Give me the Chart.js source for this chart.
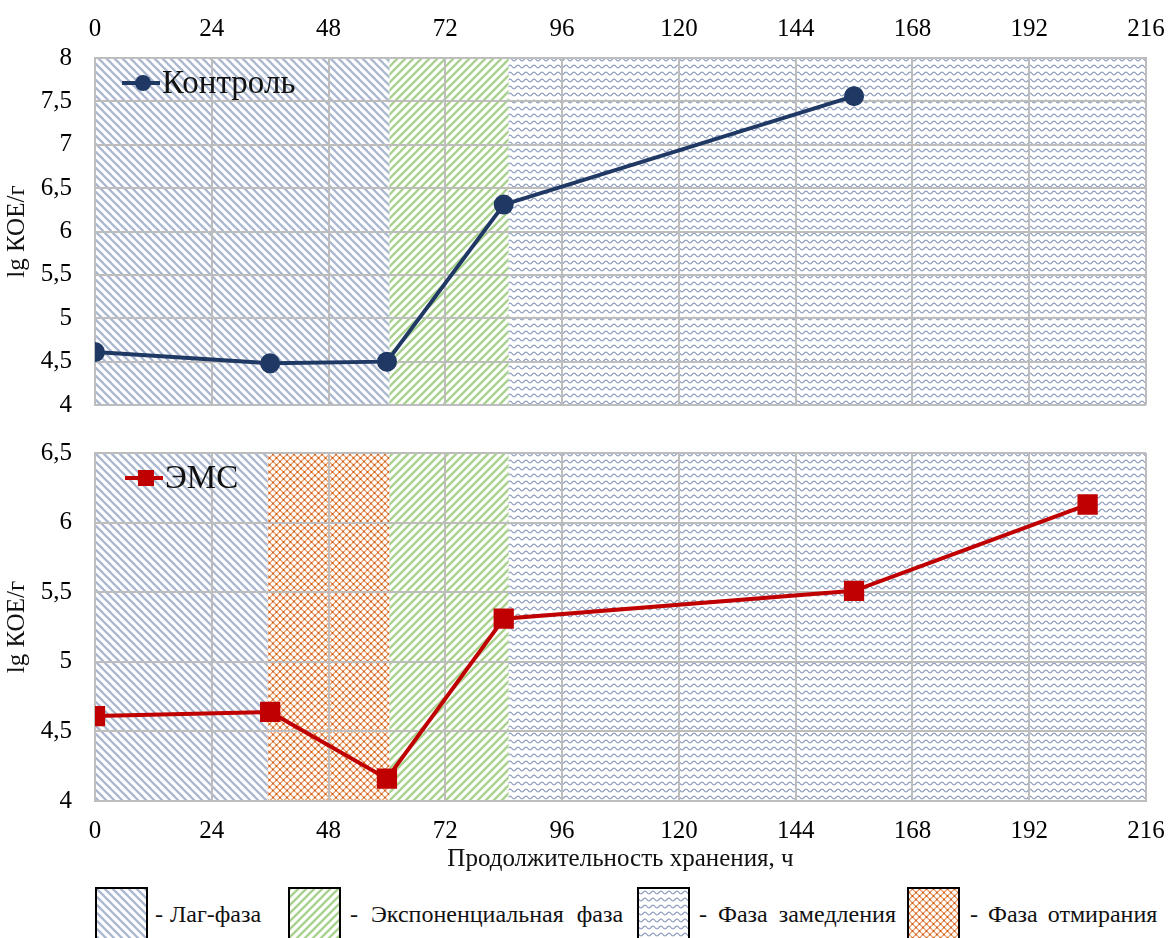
<!DOCTYPE html>
<html lang="ru">
<head>
<meta charset="utf-8">
<title>Рост микрофлоры при хранении</title>
<script src="https://cdn.jsdelivr.net/npm/chart.js@4.4.1/dist/chart.umd.min.js"></script>
<style>
  html, body { margin: 0; padding: 0; background: #fff; }
  body { width: 1168px; height: 938px; position: relative; overflow: hidden; font-family: "Liberation Serif", "Times New Roman", serif; }
  #topWrap { position: absolute; left: 0; top: 0; width: 1168px; height: 420px; }
  #botWrap { position: absolute; left: 0; top: 430px; width: 1168px; height: 446px; }
  .lg-box { position: absolute; top: 887px; width: 53px; height: 60px; border: 2px solid #000; box-sizing: border-box; overflow: hidden; }
  .lg-box canvas { display: block; }
  .lg-text { position: absolute; top: 899px; font-size: 24px; line-height: 30px; color: #111; white-space: nowrap; }
</style>
</head>
<body>
<div id="topWrap"><canvas id="topChart" width="1168" height="420"></canvas></div>
<div id="botWrap"><canvas id="botChart" width="1168" height="446"></canvas></div>
<div id="legend"></div>

<script>
// ---- data ----
const xTicks = [0, 24, 48, 72, 96, 120, 144, 168, 192, 216];
const controlHours = [0, 36, 60, 84, 156];
const controlLog = [4.61, 4.48, 4.50, 6.31, 7.56];
const emsHours = [0, 36, 60, 84, 156, 204];
const emsLog = [4.61, 4.64, 4.16, 5.31, 5.51, 6.13];

// growth phases: boundaries (hours) and phase index for each interval
const phaseNames = ['Лаг-фаза', 'Экспоненциальная фаза', 'Фаза замедления', 'Фаза отмирания'];
const controlPhaseBounds = [0, 60.5, 85, 216];
const controlPhaseKinds = [0, 1, 2];
const emsPhaseBounds = [0, 35.5, 60.5, 85, 216];
const emsPhaseKinds = [0, 3, 1, 2];

const controlLabel = 'Контроль';
const emsLabel = 'ЭМС';
const yTitle = 'lg КОЕ/г';
const xTitle = 'Продолжительность хранения, ч';

// ---- fill patterns ----
function tile(w, h, draw) {
  const c = document.createElement('canvas');
  c.width = w; c.height = h;
  const g = c.getContext('2d');
  draw(g, w, h);
  return c;
}
const patternTiles = [
  // lag: "\" stripes
  tile(8, 8, (g) => {
    g.strokeStyle = '#abb8d0'; g.lineWidth = 2.3; g.lineCap = 'square';
    for (const o of [-8, 0, 8]) { g.beginPath(); g.moveTo(o, 0); g.lineTo(o + 8, 8); g.stroke(); }
  }),
  // exponential: "/" stripes
  tile(8, 8, (g) => {
    g.strokeStyle = '#a9d18e'; g.lineWidth = 2.3; g.lineCap = 'square';
    for (const o of [-8, 0, 8]) { g.beginPath(); g.moveTo(o, 8); g.lineTo(o + 8, 0); g.stroke(); }
  }),
  // slowdown: waves
  tile(8, 7, (g) => {
    g.strokeStyle = '#8c9dbd'; g.lineWidth = 1.2;
    g.beginPath();
    for (let x = 0; x <= 8; x += 0.5) {
      const y = 3.5 + 1.4 * Math.sin(2 * Math.PI * x / 8);
      if (x === 0) g.moveTo(x, y); else g.lineTo(x, y);
    }
    g.stroke();
  }),
  // die-off: lattice
  tile(7, 7, (g) => {
    g.strokeStyle = '#ec9a62'; g.lineWidth = 1.1;
    g.beginPath();
    g.moveTo(0, 3.5); g.lineTo(3.5, 0); g.lineTo(7, 3.5); g.lineTo(3.5, 7); g.closePath();
    g.stroke();
    g.fillStyle = '#cf5e1c';
    for (const [x, y] of [[0, 3.5], [7, 3.5], [3.5, 0], [3.5, 7]]) {
      g.fillRect(x - 0.9, y - 0.9, 1.8, 1.8);
    }
  })
];

function patternFor(ctx, kind) {
  return ctx.createPattern(patternTiles[kind], 'repeat');
}

// background plugin: paints phase bands behind grid and lines
const phaseBands = {
  id: 'phaseBands',
  beforeDraw(chart, args, opts) {
    const { ctx, chartArea: a, scales: { x } } = chart;
    ctx.save();
    ctx.beginPath(); ctx.rect(a.left, a.top, a.right - a.left, a.bottom - a.top); ctx.clip();
    for (let i = 0; i < opts.kinds.length; i++) {
      const x0 = x.getPixelForValue(opts.bounds[i]);
      const x1 = x.getPixelForValue(opts.bounds[i + 1]);
      ctx.fillStyle = patternFor(ctx, opts.kinds[i]);
      ctx.fillRect(x0, a.top, x1 - x0, a.bottom - a.top);
    }
    ctx.restore();
  }
};

// series key drawn inside plot area
const seriesKey = {
  id: 'seriesKey',
  afterDatasetsDraw(chart, args, opts) {
    const { ctx } = chart;
    const ds = chart.data.datasets[0];
    const cx = opts.x, cy = opts.y;
    ctx.save();
    ctx.strokeStyle = ds.borderColor; ctx.lineWidth = ds.borderWidth;
    ctx.beginPath(); ctx.moveTo(cx - 21, cy); ctx.lineTo(cx + 17, cy); ctx.stroke();
    ctx.fillStyle = ds.pointBackgroundColor;
    if (ds.pointStyle === 'rect') {
      ctx.fillRect(cx - 8, cy - 8, 16, 16);
    } else {
      ctx.beginPath(); ctx.arc(cx, cy, 8, 0, Math.PI * 2); ctx.fill();
    }
    ctx.fillStyle = '#111';
    ctx.font = '33px "Liberation Serif", serif';
    ctx.textBaseline = 'alphabetic';
    ctx.fillText(ds.label, cx + 19, cy + 10);
    ctx.restore();
  }
};

const serif = '"Liberation Serif", "Times New Roman", serif';
const gridColor = '#bdbdbd';
const commaTick = v => String(v).replace('.', ',');

function makeOptions(cfg) {
  return {
    responsive: false,
    animation: false,
    layout: { padding: cfg.padding },
    plugins: {
      legend: { display: false },
      tooltip: { enabled: false },
      phaseBands: { bounds: cfg.bounds, kinds: cfg.kinds },
      seriesKey: cfg.key
    },
    scales: {
      x: {
        type: 'linear',
        position: cfg.xPos,
        min: 0, max: 216,
        afterBuildTicks: s => { s.ticks = xTicks.map(v => ({ value: v })); },
        afterFit: s => { s.height = cfg.xHeight; s.paddingLeft = 0; s.paddingRight = 0; },
        ticks: { autoSkip: false, maxRotation: 0, padding: cfg.xPad, color: '#000', font: { family: serif, size: 25 } },
        grid: { color: gridColor, lineWidth: 2, drawTicks: false },
        border: { display: true, color: gridColor, width: 2 },
        title: cfg.xTitle ? { display: true, text: xTitle, color: '#111', font: { family: serif, size: 25 }, padding: { top: 0, bottom: 2 } } : { display: false }
      },
      y: {
        min: 4, max: cfg.yMax,
        afterFit: s => { s.width = 95; s.paddingTop = 0; s.paddingBottom = 0; },
        ticks: { stepSize: 0.5, autoSkip: false, padding: 23, color: '#000', font: { family: serif, size: 25 }, callback: commaTick },
        grid: { color: gridColor, lineWidth: 2, drawTicks: false },
        border: { display: true, color: gridColor, width: 2 },
        title: { display: true, text: yTitle, color: '#111', font: { family: serif, size: 25 }, padding: { top: 2, bottom: 0 } }
      }
    }
  };
}

function points(xs, ys) { return xs.map((h, i) => ({ x: h, y: ys[i] })); }

new Chart(document.getElementById('topChart'), {
  type: 'line',
  data: {
    datasets: [{
      label: controlLabel,
      data: points(controlHours, controlLog),
      borderColor: '#1f3864', backgroundColor: '#1f3864',
      pointBackgroundColor: '#1f3864', pointBorderColor: '#1f3864',
      pointStyle: 'circle', pointRadius: 8, borderWidth: 4, tension: 0, fill: false
    }]
  },
  options: makeOptions({
    padding: { left: 0, right: 22, top: 0, bottom: 15 },
    xPos: 'top', xHeight: 58, xPad: 14, xTitle: false, yMax: 8,
    bounds: controlPhaseBounds, kinds: controlPhaseKinds,
    key: { x: 143, y: 83 }
  }),
  plugins: [phaseBands, seriesKey]
});

new Chart(document.getElementById('botChart'), {
  type: 'line',
  data: {
    datasets: [{
      label: emsLabel,
      data: points(emsHours, emsLog),
      borderColor: '#c00000', backgroundColor: '#c00000',
      pointBackgroundColor: '#c00000', pointBorderColor: '#c00000',
      pointStyle: 'rect', pointRadius: 11.5, borderWidth: 4, tension: 0, fill: false
    }]
  },
  options: makeOptions({
    padding: { left: 0, right: 22, top: 23, bottom: 0 },
    xPos: 'bottom', xHeight: 75, xPad: 15, xTitle: true, yMax: 6.5,
    bounds: emsPhaseBounds, kinds: emsPhaseKinds,
    key: { x: 146, y: 48 }
  }),
  plugins: [phaseBands, seriesKey]
});

// ---- phase legend below the charts ----
const legendBoxLeft = [95, 288, 637, 907];
const legendTextLeft = [155, 350, 699, 970];
const legendWordSpacing = [1, 7, 5, 4];
const legend = document.getElementById('legend');
phaseNames.forEach((name, i) => {
  const box = document.createElement('div');
  box.className = 'lg-box';
  box.style.left = legendBoxLeft[i] + 'px';
  const c = document.createElement('canvas');
  c.width = 49; c.height = 56;
  const g = c.getContext('2d');
  g.fillStyle = '#fff'; g.fillRect(0, 0, 49, 56);
  g.fillStyle = g.createPattern(patternTiles[i], 'repeat');
  g.fillRect(0, 0, 49, 56);
  box.appendChild(c);
  legend.appendChild(box);
  const t = document.createElement('div');
  t.className = 'lg-text';
  t.style.left = legendTextLeft[i] + 'px';
  t.style.wordSpacing = legendWordSpacing[i] + 'px';
  t.textContent = '- ' + name;
  legend.appendChild(t);
});
</script>
</body>
</html>
